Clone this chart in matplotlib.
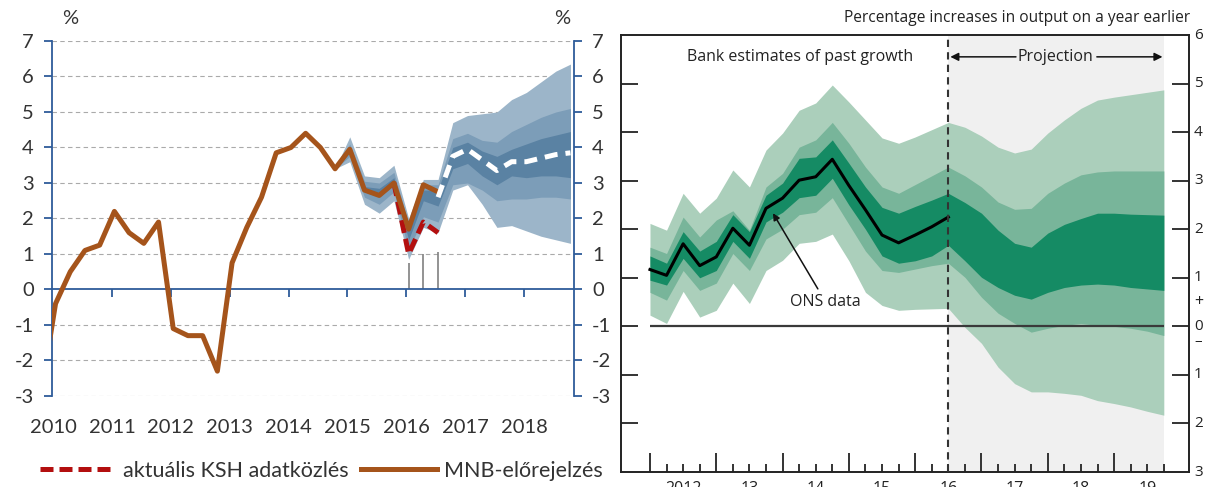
import matplotlib.pyplot as plt
from matplotlib.lines import Line2D
import matplotlib.transforms as mtransforms
import numpy as np

plt.rcParams['font.family'] = ['Lato', 'DejaVu Sans']

# ---------------- left chart data (MNB, Hungary GDP) ----------------
years_left = [2010, 2011, 2012, 2013, 2014, 2015, 2016, 2017, 2018]
# quarterly, 2009Q4 .. 2016Q3
mnb_hist = [-3.0, -0.4, 0.5, 1.1, 1.25, 2.2, 1.6, 1.3, 1.9, -1.1, -1.3, -1.3, -2.3,
            0.75, 1.75, 2.6, 3.85, 4.0, 4.4, 4.0, 3.4, 3.95, 2.8, 2.65, 3.0, 1.7,
            2.95, 2.75]
# KSH release 2015Q4 .. 2016Q3
ksh_actual = [3.0, 1.0, 1.9, 1.6]
# central forecast 2016Q3 .. 2018Q4
mnb_fcst = [2.6, 3.75, 3.95, 3.65, 3.35, 3.6, 3.6, 3.7, 3.8, 3.85]
# fan bands 2014Q4 .. 2018Q4
fan_out_hi = [3.4, 4.3, 3.2, 3.15, 3.5, 2.0, 3.1, 3.1, 4.7, 4.9, 4.95, 5.0, 5.35, 5.55, 5.85, 6.15, 6.35]
fan_out_lo = [3.4, 3.6, 2.4, 2.15, 2.5, 0.85, 1.75, 1.6, 2.8, 2.95, 2.4, 1.75, 1.8, 1.65, 1.5, 1.4, 1.3]
fan_mid_hi = [3.4, 4.1, 3.05, 3.0, 3.3, 1.85, 2.95, 2.95, 4.25, 4.4, 4.2, 4.15, 4.45, 4.65, 4.85, 5.0, 5.1]
fan_mid_lo = [3.4, 3.75, 2.6, 2.4, 2.75, 1.1, 2.05, 1.9, 2.95, 3.0, 2.8, 2.5, 2.55, 2.55, 2.6, 2.6, 2.55]
fan_in_hi = [3.4, 4.0, 2.9, 2.85, 3.15, 1.7, 2.8, 2.8, 4.0, 4.15, 3.9, 3.75, 3.95, 4.1, 4.25, 4.35, 4.45]
fan_in_lo = [3.4, 3.85, 2.75, 2.6, 2.95, 1.4, 2.5, 2.35, 3.4, 3.55, 3.2, 2.95, 3.2, 3.15, 3.2, 3.2, 3.15]
# small grey drop lines 2016Q1..Q3
drop_vals = [0.75, 1.0, 1.07]

# ---------------- right chart data (Bank of England fan) ----------------
boe_year_labels = ['2012', '13', '14', '15', '16', '17', '18', '19']
ons_data = [1.17, 1.05, 1.7, 1.25, 1.43, 2.02, 1.67, 2.43, 2.64, 3.01, 3.08, 3.44,
            2.9, 2.4, 1.88, 1.72, 1.88, 2.05, 2.25]
light_hi = [2.12, 1.98, 2.74, 2.33, 2.64, 3.22, 2.87, 3.63, 3.98, 4.45, 4.6, 4.97, 4.62, 4.25, 3.88, 3.77,
            3.9, 4.05, 4.2, 4.1, 3.92, 3.69, 3.57, 3.65, 3.98, 4.25, 4.49, 4.66, 4.72, 4.77, 4.82, 4.87]
mid_hi = [1.63, 1.5, 2.25, 1.84, 2.19, 2.38, 1.98, 2.87, 3.15, 3.69, 3.84, 4.2, 3.77, 3.28, 2.87, 2.74,
          2.92, 3.1, 3.28, 3.1, 2.87, 2.56, 2.41, 2.43, 2.74, 2.95, 3.12, 3.18, 3.2, 3.2, 3.2, 3.2]
dark_hi = [1.45, 1.3, 1.95, 1.55, 1.75, 2.3, 1.95, 2.7, 2.95, 3.46, 3.49, 3.84, 3.36, 2.87, 2.45, 2.33,
           2.47, 2.6, 2.74, 2.55, 2.33, 1.98, 1.71, 1.63, 1.92, 2.1, 2.22, 2.33, 2.33, 2.31, 2.3, 2.29]
dark_lo = [0.95, 0.85, 1.4, 1.0, 1.15, 1.75, 1.4, 2.15, 2.35, 2.65, 2.7, 3.05, 2.5, 2.0, 1.45, 1.3,
           1.35, 1.45, 1.67, 1.35, 1.01, 0.8, 0.64, 0.56, 0.7, 0.8, 0.85, 0.87, 0.85, 0.8, 0.77, 0.74]
mid_lo = [0.7, 0.54, 1.15, 0.74, 0.89, 1.5, 1.15, 1.8, 2.0, 2.3, 2.35, 2.65, 2.1, 1.55, 1.15, 1.11,
          1.18, 1.25, 1.3, 1.01, 0.6, 0.27, 0.06, -0.12, -0.04, 0.02, 0.06, 0.02, 0.0, -0.04, -0.1, -0.19]
light_lo = [0.23, 0.06, 0.72, 0.19, 0.33, 0.89, 0.47, 1.15, 1.36, 1.71, 1.75, 1.9, 1.35, 0.7, 0.43, 0.33,
            0.35, 0.36, 0.37, -0.02, -0.35, -0.84, -1.18, -1.35, -1.35, -1.38, -1.42, -1.53, -1.59, -1.66,
            -1.75, -1.83]

# quarter positions
q_hist = 2009.79 + 0.25 * np.arange(len(mnb_hist))
q_ksh = 2015.79 + 0.25 * np.arange(len(ksh_actual))
q_fcst = 2016.54 + 0.25 * np.arange(len(mnb_fcst))
q_fan = 2014.79 + 0.25 * np.arange(len(fan_out_hi))
q_drop = 2016.04 + 0.25 * np.arange(len(drop_vals))
q_boe = 2012 + 0.25 * np.arange(len(light_hi))

W, H = 1210, 487
fig = plt.figure(figsize=(W / 100, H / 100), dpi=100)

# ======================= left chart =======================
blue = '#2e5c9a'
txt = '#333333'
ax1 = fig.add_axes([52 / W, 1 - 396 / H, (574 - 52) / W, (396 - 41) / H])
ax1.set_xlim(2009.98, 2018.85)
ax1.set_ylim(-3, 7)

for v in range(-3, 8):
    if v != 0:
        ax1.axhline(v, color='#aaaaaa', lw=0.8, ls=(0, (4, 3)), zorder=0)

ax1.fill_between(q_fan, fan_out_lo, fan_out_hi, color='#9cb5c9', lw=0, zorder=1)
ax1.fill_between(q_fan, fan_mid_lo, fan_mid_hi, color='#7c9db8', lw=0, zorder=1)
ax1.fill_between(q_fan, fan_in_lo, fan_in_hi, color='#5a82a3', lw=0, zorder=1)

ax1.vlines(q_drop, 0, drop_vals, color='#808080', lw=1.2, zorder=2)

ax1.plot(q_ksh, ksh_actual, color='#b30f0f', lw=3.6, ls=(0, (2.6, 1.2)), zorder=3)
ax1.plot(q_hist, mnb_hist, color='#a5541b', lw=3.6, solid_joinstyle='round', zorder=4)
ax1.plot(q_fcst, mnb_fcst, color='white', lw=3.6, ls=(0, (2.6, 1.6)), zorder=4)

for s in ['top', 'bottom']:
    ax1.spines[s].set_visible(False)
for s in ['left', 'right']:
    ax1.spines[s].set_color(blue)
    ax1.spines[s].set_linewidth(1.3)
ax1.axhline(0, color=blue, lw=1.3, zorder=2)

ax1.set_yticks(range(-3, 8))
ax1.set_yticklabels([str(v) for v in range(-3, 8)])
ax1.tick_params(axis='y', left=True, right=True, labelleft=True, labelright=True,
                direction='out', length=6, width=1.3, color=blue, labelsize=14.5,
                labelcolor=txt, pad=7)
ax1.set_xticks([])
ax1.vlines(years_left[1:], -0.22, 0, color=blue, lw=1.3, zorder=2, clip_on=False)
for yr in years_left:
    ax1.text(yr, -3.9, str(yr), ha='center', va='center', fontsize=14.5, color=txt)

fig.text(70 / W, 1 - 19 / H, '%', ha='center', va='center', fontsize=14.5, color=txt)
fig.text(562 / W, 1 - 19 / H, '%', ha='center', va='center', fontsize=14.5, color=txt)

handles = [Line2D([], [], color='#b30f0f', lw=3.6, ls=(0, (2.6, 1.2))),
           Line2D([], [], color='#a5541b', lw=3.6)]
fig.legend(handles, ['aktuális KSH adatközlés', 'MNB-előrejelzés'], loc='center left',
           bbox_to_anchor=(40 / W, 1 - 471 / H), ncol=2, frameon=False, fontsize=15.5,
           handlelength=3.5, handletextpad=0.35, columnspacing=0.6, labelcolor=txt,
           borderpad=0, borderaxespad=0)

# ======================= right chart =======================
ax2 = fig.add_axes([621 / W, 1 - 472 / H, (1189 - 621) / W, (472 - 35) / H])
ax2.set_xlim(2011.563, 2020.13)
ax2.set_ylim(-3, 6)

ax2.axvspan(2016.5, q_boe[-1], color='#f0f0f0', lw=0, zorder=0)
ax2.fill_between(q_boe, light_lo, light_hi, color='#abcfbb', lw=0, zorder=1)
ax2.fill_between(q_boe, mid_lo, mid_hi, color='#78b59a', lw=0, zorder=1)
ax2.fill_between(q_boe, dark_lo, dark_hi, color='#158b64', lw=0, zorder=1)
ax2.hlines(0, q_boe[0], q_boe[-1], color='#3a3a3a', lw=1.6, zorder=2)
ax2.plot(q_boe[:len(ons_data)], ons_data, color='black', lw=2.2, zorder=3)
ax2.axvline(2016.5, color='#333333', lw=1.5, ls=(0, (3.5, 2.5)), zorder=3)

for s in ax2.spines.values():
    s.set_color('#222222')
    s.set_linewidth(1.4)

ax2.set_yticks(range(-2, 6))
ax2.tick_params(axis='y', left=True, right=True, labelleft=False, labelright=False,
                direction='in', length=12, width=1.4, color='#333333')
ax2.set_xticks(range(2012, 2020))
ax2.set_xticks(np.arange(2012, 2019.8, 0.25), minor=True)
ax2.tick_params(axis='x', which='major', direction='in', length=14, width=1.4,
                color='#333333', labelbottom=False)
ax2.tick_params(axis='x', which='minor', direction='in', length=6, width=1.4,
                color='#333333')

rt = '#222222'
fam = ['Open Sans', 'DejaVu Sans']
ytr = mtransforms.blended_transform_factory(fig.transFigure, ax2.transData)
for v in range(-3, 7):
    fig.text(1194 / W, v, str(abs(v)), transform=ytr, ha='left', va='center',
             fontsize=11, color=rt, family=fam)
fig.text(1194 / W, 0.5, '+', transform=ytr, ha='left', va='center', fontsize=11.5,
         color=rt, family=fam)
fig.text(1194 / W, -0.32, '\u2013', transform=ytr, ha='left', va='center', fontsize=11,
         color=rt, family=fam)

xtr = mtransforms.blended_transform_factory(ax2.transData, fig.transFigure)
for i, lab in enumerate(boe_year_labels):
    fig.text(2012.5 + i, 1 - 481 / H, lab, transform=xtr, ha='center', va='top',
             fontsize=11.5, color=rt, family=fam)

ax2.text(2014.26, 5.55, 'Bank estimates of past growth', ha='center', va='center',
         fontsize=11.5, color=rt, family=fam)
ax2.text(2018.12, 5.55, 'Projection', ha='center', va='center',
         fontsize=11.5, color=rt, family=fam)
arrow = dict(arrowstyle='-|>', color='#111111', lw=1.1, mutation_scale=12,
             shrinkA=0, shrinkB=0)
ax2.annotate('', xy=(2016.53, 5.55), xytext=(2017.52, 5.55), arrowprops=arrow)
ax2.annotate('', xy=(2019.73, 5.55), xytext=(2018.74, 5.55), arrowprops=arrow)

ax2.annotate('ONS data', xy=(2013.855, 2.33), xytext=(2014.65, 0.5), ha='center',
             va='center', fontsize=11.5, color=rt, family=fam,
             arrowprops=dict(arrowstyle='-|>', color='#111111', lw=1.1,
                             mutation_scale=10, shrinkA=2, shrinkB=0))

fig.text(1190 / W, 1 - 18 / H, 'Percentage increases in output on a year earlier',
         ha='right', va='center', fontsize=11.2, color=rt, family=fam)

fig.savefig('out.png', dpi=100)
